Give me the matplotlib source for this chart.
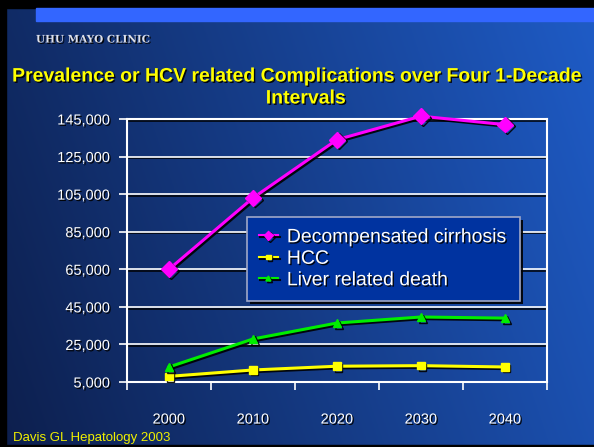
import numpy as np
import matplotlib
matplotlib.use('Agg')
from matplotlib import pyplot as plt
from matplotlib import patheffects as pe
from matplotlib.patches import Rectangle

years = ['2000', '2010', '2020', '2030', '2040']
cirrhosis = [65000, 103000, 134000, 146500, 142000]
hcc = [8000, 11400, 13400, 13700, 13000]
liver_death = [13000, 27900, 36400, 39600, 39000]
yticks = [5000, 25000, 45000, 65000, 85000, 105000, 125000, 145000]

plt.rcParams['font.family'] = ['Liberation Sans', 'DejaVu Sans']

fig = plt.figure(figsize=(5.94, 4.47), dpi=100)

# slide background: dark navy on the left -> brighter blue on the right
bg = fig.add_axes([0, 0, 1, 1], zorder=-10)
gx = np.linspace(0, 1, 300)
gy = np.linspace(0, 1, 200)
GX, GY = np.meshgrid(gx, gy)
t = np.clip(0.8 * GX + 0.2 * GY, 0, 1)
c0 = np.array([0.05, 0.12, 0.30])
c1 = np.array([0.12, 0.36, 0.78])
img = c0[None, None, :] * (1 - t[..., None]) + c1[None, None, :] * t[..., None]
bg.imshow(img, extent=[0, 1, 0, 1], aspect='auto', origin='lower')
bg.set_xlim(0, 1)
bg.set_ylim(0, 1)
bg.axis('off')

# black border and blue bar at top
bg.add_patch(Rectangle((0, 1 - 8 / 447), 1, 8 / 447, color='black'))
bg.add_patch(Rectangle((0, 0), 6 / 594, 1, color='black'))
bg.add_patch(Rectangle((0, 0), 1, 2 / 447, color='black'))
bg.add_patch(Rectangle((36 / 594, 1 - 21 / 447), 1, 13 / 447, color='#3366ff'))

lshadow = [pe.SimpleLineShadow(offset=(1.2, -1.2), shadow_color='black', alpha=0.9), pe.Normal()]
pshadow = [pe.withSimplePatchShadow(offset=(2, -2), shadow_rgbFace='black', alpha=0.9)]
tshadow = [pe.SimplePatchShadow(offset=(1, -1), shadow_rgbFace='black', alpha=0.9),
           pe.Normal()]

fig.text(36 / 594, 1 - 40 / 447, 'UHU MAYO CLINIC', color='#dde0ea', fontsize=7.5,
         fontweight='bold', family='DejaVu Serif', va='center', path_effects=tshadow)

fig.text(0.5, 1 - 77 / 447, 'Prevalence or HCV related Complications over Four 1-Decade',
         color='#ffff00', fontsize=14, fontweight='bold', ha='center', va='center',
         path_effects=tshadow)
fig.text(0.515, 1 - 99 / 447, 'Intervals', color='#ffff00', fontsize=14,
         fontweight='bold', ha='center', va='center', path_effects=tshadow)

fig.text(13 / 594, 1 - 438 / 447, 'Davis GL Hepatology 2003', color='#f0f000',
         fontsize=9.5, va='center')

ax = fig.add_axes([127 / 594, 1 - 382 / 447, 420 / 594, 263 / 447])
ax.patch.set_alpha(0)
x = np.arange(len(years))

ax.set_ylim(5000, 145000)
ax.set_xlim(-0.5, 4.5)
ax.set_yticks(yticks)
ax.set_yticklabels([f'{v:,}' for v in yticks])
ax.set_xticks(x)
ax.set_xticklabels(years)
ax.set_xticks(np.arange(-0.5, 5, 1), minor=True)
ax.tick_params(axis='x', which='major', length=0, pad=22, labelsize=10.5, colors='white')
ax.tick_params(axis='x', which='minor', length=6, width=1.2, color='white', direction='out')
ax.tick_params(axis='y', length=6, width=1.2, color='white', pad=6, labelsize=10.5,
               labelcolor='white')
for lbl in ax.get_xticklabels() + ax.get_yticklabels():
    lbl.set_path_effects(tshadow)

ax.grid(axis='y', color='white', linewidth=1.2, path_effects=lshadow)
ax.set_axisbelow(True)
for s in ax.spines.values():
    s.set_color('white')
    s.set_linewidth(1.5)

ax.plot(x, cirrhosis, color='#ff00ff', lw=2.2, marker='D', ms=8,
        label='Decompensated cirrhosis', clip_on=False, path_effects=lshadow, zorder=5)
ax.plot(x, hcc, color='#ffff00', lw=2.2, marker='s', ms=5.5,
        label='HCC', clip_on=False, path_effects=lshadow, zorder=5)
ax.plot(x, liver_death, color='#00ee00', lw=2.2, marker='^', ms=6,
        label='Liver related death', clip_on=False, path_effects=lshadow, zorder=5)

leg = ax.legend(loc='upper left', bbox_to_anchor=((247 - 127) / 420, (382 - 217) / 263),
                borderaxespad=0, fontsize=14, frameon=True, fancybox=False,
                facecolor='#0033a0', edgecolor='#a0a8c8', framealpha=1,
                handlelength=1.0, handletextpad=0.45, labelspacing=0.2, borderpad=0.6,
                markerscale=0.6)
leg.get_frame().set_linewidth(1.2)
leg.get_frame().set_path_effects(pshadow)
leg.set_zorder(10)
for line in leg.get_lines():
    line.set_linewidth(1.5)
for txt in leg.get_texts():
    txt.set_color('white')
    txt.set_path_effects(tshadow)

fig.savefig('out.png', dpi=100)
